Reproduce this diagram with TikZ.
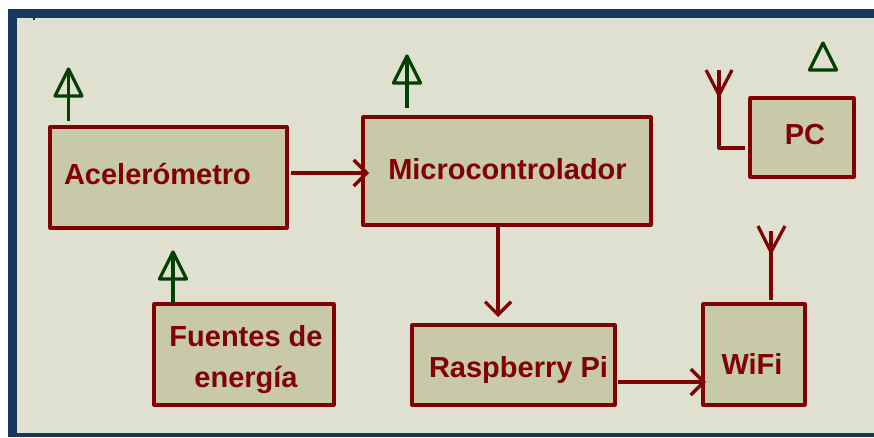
\documentclass[tikz,border=0pt]{standalone}
\usepackage{fontspec}
\setmainfont{Liberation Sans}
\usetikzlibrary{positioning,arrows.meta}
\definecolor{frameblue}{HTML}{17375E}
\definecolor{sheet}{HTML}{DFE0CF}
\definecolor{boxfill}{HTML}{C8C9A9}
\definecolor{wire}{HTML}{800000}
\definecolor{pwrgreen}{HTML}{004000}

\begin{document}
\begin{tikzpicture}[x=1pt,y=-1pt,line join=round,
box/.style={draw=wire,fill=boxfill,line width=3.2pt,rectangle,inner sep=0pt,outer sep=0pt},
boxtext/.style={text=wire,font=\bfseries\fontsize{29}{41}\selectfont,inner sep=0pt,align=center},
link/.style={draw=wire,line width=3.2pt,-{Straight Barb[length=13pt,width=26pt,line width=3.2pt]}},
antenna/.style={draw=wire,line width=3.2pt},
pwr/.style={draw=pwrgreen,line width=3.2pt}]
\useasboundingbox (0,0) rectangle (874,437);
\fill[frameblue] (8,9) rectangle (874,437);
\fill[sheet] (17,18) rectangle (874,433);
\draw[pwrgreen,line width=1.5pt] (34,18) -- (34,20);

% blocks
\node[box,minimum width=237pt,minimum height=101pt] (acel) at (168.5,177.5) {};
\node[box,minimum width=288pt,minimum height=108pt] (micro) at (507,171) {};
\node[box,minimum width=180pt,minimum height=101pt] (fuentes) at (244,354.5) {};
\node[box,minimum width=203pt,minimum height=80pt] (rasp) at (513.5,365) {};
\node[box,minimum width=102pt,minimum height=101pt] (wifi) at (754,354.5) {};
\node[box,minimum width=104pt,minimum height=79pt] (pc) at (802,137.5) {};

\node[boxtext] (aceltext) at (157.5,174) {Acelerómetro};
\node[boxtext] (microtext) at (507.5,169) {Microcontrolador};
\node[boxtext] (fuentestext) at (246,359.5) {Fuentes de\\energía};
\node[boxtext] (rasptext) at (518.5,370) {Raspberry Pi};
\node[boxtext] (wifitext) at (752,364) {WiFi};
\node[boxtext] (pctext) at (805,135) {PC};

% connectors
\coordinate (acelout) at (291,173);
\coordinate (raspout) at (618,382);
\draw[link,shorten >=-6pt] (acelout) -- (micro.west |- acelout);
\draw[link,shorten >=8pt] (micro.south -| 498,0) -- (rasp.north -| 498,0);
\draw[link,shorten >=-3pt] (raspout) -- (wifi.west |- raspout);

% power symbols
\foreach \name/\x/\y/\stem in {acelpwr/68.5/69/52,micropwr/407/56/52,fuentespwr/173/252/51}{
  \coordinate (\name) at (\x,\y);
  \draw[pwr] (\name) -- ++(-13.5,27) -- ++(27,0) -- cycle;
  \draw[pwr] (\name) -- ++(0,\stem);
}
\coordinate (pcpwr) at (823,43);
\draw[pwr] (pcpwr) -- ++(-13.5,27) -- ++(27,0) -- cycle;

% antennas
\coordinate (pcant) at (719,70);
\coordinate (wifiant) at (771,231);
\draw[antenna] (pcant) |- (745,148);
\draw[antenna] (706,70) -- (719,95) -- (732,70);
\draw[antenna] (wifiant) -- (771,300);
\draw[antenna] (758,226) -- (771,252) -- (785,226);
\end{tikzpicture}
\end{document}
